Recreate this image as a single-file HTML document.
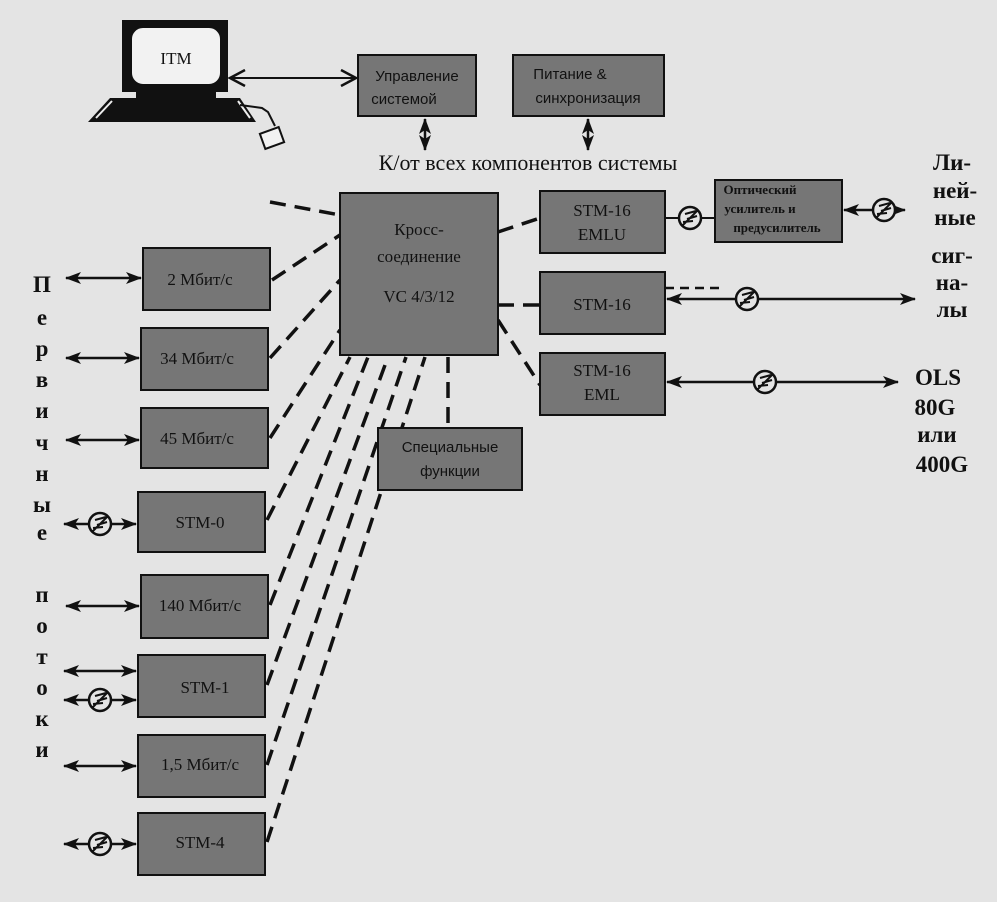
<!DOCTYPE html>
<html><head><meta charset="utf-8"><style>
html,body{margin:0;padding:0;background:#e4e4e4;}
svg{display:block}
.b{font-weight:bold}
</style></head><body>
<svg width="997" height="902" viewBox="0 0 997 902" xmlns="http://www.w3.org/2000/svg">
<defs>
<marker id="ah" markerWidth="16" markerHeight="12" refX="15" refY="6" orient="auto-start-reverse" markerUnits="userSpaceOnUse">
<path d="M0,0 L16,6 L0,12 L4,6 z" fill="#111"/>
</marker>
<marker id="oa" markerWidth="18" markerHeight="18" refX="16" refY="9" orient="auto-start-reverse" markerUnits="userSpaceOnUse">
<path d="M1,1 L16,9 L1,17" fill="none" stroke="#111" stroke-width="2.5"/>
</marker>
<g id="fib"><circle r="11" fill="#e4e4e4" stroke="#111" stroke-width="2.5"/><path d="M-8,8 L8,-8 M-5,-4 L6,-7 M-3,1 L7,-2 M-7,4 L3,3" stroke="#111" stroke-width="2"/></g>
</defs>
<rect width="997" height="902" fill="#e4e4e4"/>
<g font-family="Liberation Serif, serif" fill="#111">
<rect x="122" y="20" width="106" height="72" fill="#111"/>
<rect x="131" y="27" width="90" height="58" rx="12" fill="#f2f2f2" stroke="#111" stroke-width="2"/>
<text x="176" y="64" font-size="17" text-anchor="middle">ITM</text>
<rect x="136" y="92" width="80" height="6" fill="#111"/>
<path d="M110,98 L240,98 L256,122 L88,122 Z" fill="#111"/>
<path d="M96,118 L112,101" stroke="#eee" stroke-width="2"/>
<path d="M238,101 L250,118" stroke="#eee" stroke-width="2"/>
<path d="M240,105 L262,108 L268,112 L275,126" fill="none" stroke="#111" stroke-width="2"/>
<rect x="262" y="130" width="20" height="16" fill="#f2f2f2" stroke="#111" stroke-width="2" transform="rotate(-20 272 138)"/>
<line x1="230" y1="78" x2="356" y2="78" stroke="#111" stroke-width="2" marker-start="url(#oa)" marker-end="url(#oa)"/>
<g font-family="Liberation Sans, sans-serif" font-size="15">
<rect x="358" y="55" width="118" height="61" fill="#767676" stroke="#111" stroke-width="2"/>
<text x="417" y="81" text-anchor="middle">Управление</text>
<text x="404" y="104" text-anchor="middle">системой</text>
<rect x="513" y="55" width="151" height="61" fill="#767676" stroke="#111" stroke-width="2"/>
<text x="570" y="79" text-anchor="middle">Питание &amp;</text>
<text x="588" y="103" text-anchor="middle">синхронизация</text>
</g>
<line x1="425" y1="119" x2="425" y2="150" stroke="#111" stroke-width="2.5" marker-start="url(#ah)" marker-end="url(#ah)"/>
<line x1="588" y1="119" x2="588" y2="150" stroke="#111" stroke-width="2.5" marker-start="url(#ah)" marker-end="url(#ah)"/>
<text x="528" y="170" font-size="22" text-anchor="middle">К/от всех компонентов системы</text>
<g stroke="#111" stroke-width="3.5" stroke-dasharray="16,9" fill="none">
<line x1="270" y1="202" x2="340" y2="215"/>
<line x1="272" y1="280" x2="340" y2="235"/>
<line x1="270" y1="358" x2="340" y2="280"/>
<line x1="270" y1="438" x2="340" y2="330"/>
<line x1="267" y1="520" x2="350" y2="357"/>
<line x1="270" y1="605" x2="368" y2="357"/>
<line x1="267" y1="685" x2="388" y2="357"/>
<line x1="267" y1="765" x2="406" y2="357"/>
<line x1="267" y1="842" x2="425" y2="357"/>
<line x1="448" y1="357" x2="448" y2="428"/>
<line x1="498" y1="232" x2="540" y2="218"/>
<line x1="498" y1="305" x2="540" y2="305"/>
<line x1="498" y1="320" x2="540" y2="385"/>
<line x1="665" y1="288" x2="722" y2="288" stroke-width="2.5" stroke-dasharray="9,6"/>
</g>
<rect x="340" y="193" width="158" height="162" fill="#767676" stroke="#111" stroke-width="2"/>
<g font-size="17" text-anchor="middle">
<text x="419" y="235">Кросс-</text>
<text x="419" y="262">соединение</text>
<text x="419" y="302">VC 4/3/12</text>
</g>
<rect x="378" y="428" width="144" height="62" fill="#767676" stroke="#111" stroke-width="2"/>
<g font-family="Liberation Sans, sans-serif" font-size="15" text-anchor="middle">
<text x="450" y="452">Специальные</text>
<text x="450" y="476">функции</text>
</g>
<g font-size="17" text-anchor="middle">
<rect x="540" y="191" width="125" height="62" fill="#767676" stroke="#111" stroke-width="2"/>
<text x="602" y="216">STM-16</text><text x="602" y="240">EMLU</text>
<rect x="540" y="272" width="125" height="62" fill="#767676" stroke="#111" stroke-width="2"/>
<text x="602" y="310">STM-16</text>
<rect x="540" y="353" width="125" height="62" fill="#767676" stroke="#111" stroke-width="2"/>
<text x="602" y="376">STM-16</text><text x="602" y="400">EML</text>
</g>
<rect x="715" y="180" width="127" height="62" fill="#767676" stroke="#111" stroke-width="2"/>
<g font-size="13" text-anchor="middle" style="font-weight:bold">
<text x="760" y="194">Оптический</text>
<text x="760" y="213">усилитель и</text>
<text x="777" y="232">предусилитель</text>
</g>
<line x1="665" y1="218" x2="715" y2="218" stroke="#111" stroke-width="2"/>
<use href="#fib" x="690" y="218"/>
<line x1="844" y1="210" x2="905" y2="210" stroke="#111" stroke-width="2.5" marker-start="url(#ah)" marker-end="url(#ah)"/>
<use href="#fib" x="884" y="210"/>
<line x1="667" y1="299" x2="915" y2="299" stroke="#111" stroke-width="2.5" marker-start="url(#ah)" marker-end="url(#ah)"/>
<use href="#fib" x="747" y="299"/>
<line x1="667" y1="382" x2="898" y2="382" stroke="#111" stroke-width="2.5" marker-start="url(#ah)" marker-end="url(#ah)"/>
<use href="#fib" x="765" y="382"/>
<g font-size="23" text-anchor="middle" style="font-weight:bold">
<text x="952" y="170">Ли-</text>
<text x="955" y="198">ней-</text>
<text x="955" y="225">ные</text>
<text x="952" y="263">сиг-</text>
<text x="952" y="290">на-</text>
<text x="952" y="317">лы</text>
<text x="938" y="385">OLS</text>
<text x="935" y="415">80G</text>
<text x="937" y="442">или</text>
<text x="942" y="472">400G</text>
</g>
<g font-size="17" text-anchor="middle">
<rect x="143" y="248" width="127" height="62" fill="#767676" stroke="#111" stroke-width="2"/><text x="200" y="285">2 Мбит/с</text>
<rect x="141" y="328" width="127" height="62" fill="#767676" stroke="#111" stroke-width="2"/><text x="197" y="364">34 Мбит/с</text>
<rect x="141" y="408" width="127" height="60" fill="#767676" stroke="#111" stroke-width="2"/><text x="197" y="444">45 Мбит/с</text>
<rect x="138" y="492" width="127" height="60" fill="#767676" stroke="#111" stroke-width="2"/><text x="200" y="528">STM-0</text>
<rect x="141" y="575" width="127" height="63" fill="#767676" stroke="#111" stroke-width="2"/><text x="200" y="611">140 Мбит/с</text>
<rect x="138" y="655" width="127" height="62" fill="#767676" stroke="#111" stroke-width="2"/><text x="205" y="693">STM-1</text>
<rect x="138" y="735" width="127" height="62" fill="#767676" stroke="#111" stroke-width="2"/><text x="200" y="770">1,5 Мбит/с</text>
<rect x="138" y="813" width="127" height="62" fill="#767676" stroke="#111" stroke-width="2"/><text x="200" y="848">STM-4</text>
</g>
<g stroke="#111" stroke-width="2.5">
<line x1="66" y1="278" x2="141" y2="278" marker-start="url(#ah)" marker-end="url(#ah)"/>
<line x1="66" y1="358" x2="139" y2="358" marker-start="url(#ah)" marker-end="url(#ah)"/>
<line x1="66" y1="440" x2="139" y2="440" marker-start="url(#ah)" marker-end="url(#ah)"/>
<line x1="64" y1="524" x2="136" y2="524" marker-start="url(#ah)" marker-end="url(#ah)"/>
<line x1="66" y1="606" x2="139" y2="606" marker-start="url(#ah)" marker-end="url(#ah)"/>
<line x1="64" y1="671" x2="136" y2="671" marker-start="url(#ah)" marker-end="url(#ah)"/>
<line x1="64" y1="700" x2="136" y2="700" marker-start="url(#ah)" marker-end="url(#ah)"/>
<line x1="64" y1="766" x2="136" y2="766" marker-start="url(#ah)" marker-end="url(#ah)"/>
<line x1="64" y1="844" x2="136" y2="844" marker-start="url(#ah)" marker-end="url(#ah)"/>
</g>
<use href="#fib" x="100" y="524"/>
<use href="#fib" x="100" y="700"/>
<use href="#fib" x="100" y="844"/>
<g font-size="23" text-anchor="middle" style="font-weight:bold">
<text x="42" y="292">П</text><text x="42" y="325">е</text><text x="42" y="356">р</text>
<text x="42" y="387">в</text><text x="42" y="418">и</text><text x="42" y="450">ч</text>
<text x="42" y="481">н</text><text x="42" y="512">ы</text><text x="42" y="540">е</text>
<text x="42" y="602">п</text><text x="42" y="633">о</text><text x="42" y="664">т</text>
<text x="42" y="695">о</text><text x="42" y="726">к</text><text x="42" y="757">и</text>
</g>
</g>
</svg>
</body></html>
